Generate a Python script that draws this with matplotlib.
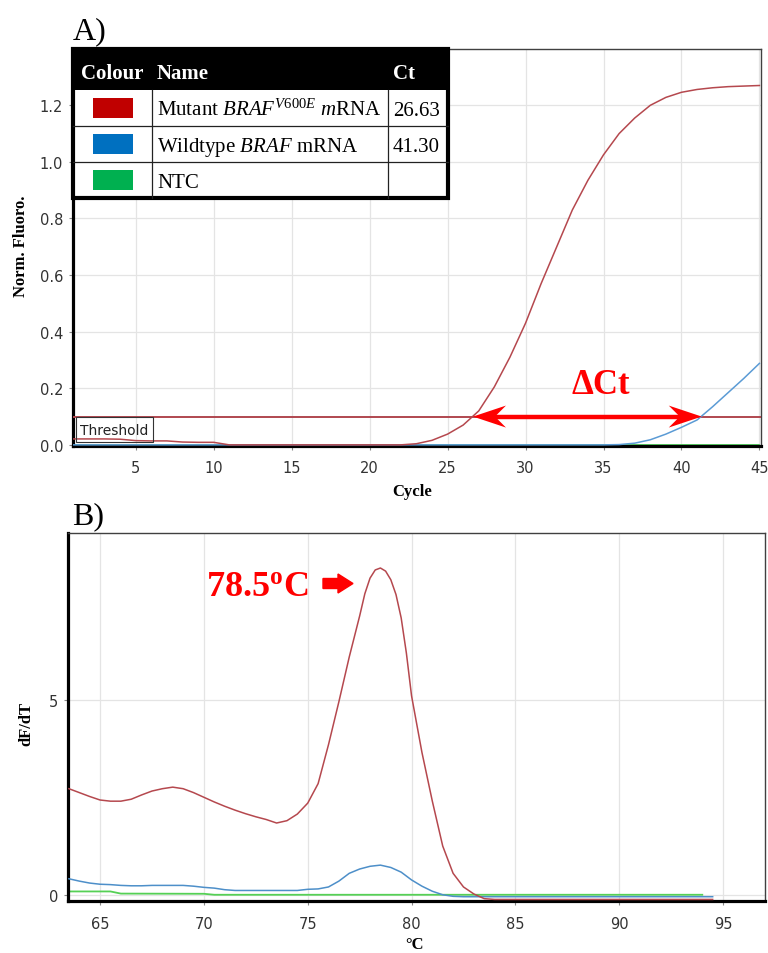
import matplotlib
matplotlib.use("Agg")
import matplotlib.pyplot as plt
from matplotlib.patches import Rectangle, FancyArrow, Polygon

plt.rcParams['font.family'] = ['DejaVu Sans']
plt.rcParams['mathtext.fontset'] = 'custom'
plt.rcParams['mathtext.rm'] = 'Liberation Serif'
plt.rcParams['mathtext.it'] = 'Liberation Serif:italic'
plt.rcParams['mathtext.bf'] = 'Liberation Serif:bold'

SERIF = 'Liberation Serif'

# ---------------- Panel A data (amplification) ----------------
cycles = list(range(1, 46))
mutant_fluoro = [0.021, 0.021, 0.021, 0.020, 0.015, 0.014, 0.014, 0.010, 0.009, 0.009,
                 0.000, 0.000, 0.000, 0.000, 0.000, 0.000, 0.000, 0.000, 0.000, 0.000,
                 0.000, 0.000, 0.004, 0.016, 0.038, 0.070, 0.120, 0.205, 0.310, 0.430,
                 0.570, 0.700, 0.830, 0.935, 1.025, 1.100, 1.155, 1.200, 1.228, 1.246,
                 1.256, 1.262, 1.266, 1.268, 1.270]
wildtype_fluoro = [0.0] * 35 + [0.001, 0.006, 0.018, 0.038, 0.062, 0.088, 0.135, 0.185, 0.235, 0.288]
ntc_fluoro = [0.0] * 45
threshold = 0.1

legend_names = [r"Mutant $\mathit{BRAF}^{\mathit{V600E}}$ $\mathit{m}$RNA",
                r"Wildtype $\mathit{BRAF}$ mRNA",
                "NTC"]
legend_colors = ['#c00000', '#0070c0', '#00b050']
ct_values = [26.63, 41.30, None]

# ---------------- Panel B data (melt curve) ----------------
mut_temp = [63.5, 64.0, 64.5, 65.0, 65.5, 66.0, 66.5, 67.0, 67.5, 68.0, 68.5, 69.0, 69.5,
            70.0, 70.5, 71.0, 71.5, 72.0, 72.5, 73.0, 73.5, 74.0, 74.5, 75.0, 75.5, 76.0,
            76.5, 77.0, 77.5, 77.75, 78.0, 78.25, 78.5, 78.75, 79.0, 79.25, 79.5, 79.75,
            80.0, 80.5, 81.0, 81.5, 82.0, 82.5, 83.0, 83.5, 84.0, 94.5]
mut_dfdt = [2.72, 2.62, 2.52, 2.43, 2.40, 2.40, 2.45, 2.56, 2.66, 2.72, 2.76, 2.72, 2.62,
            2.50, 2.38, 2.27, 2.17, 2.08, 2.00, 1.93, 1.84, 1.90, 2.07, 2.35, 2.85, 3.85,
            4.95, 6.10, 7.15, 7.72, 8.12, 8.33, 8.38, 8.30, 8.08, 7.70, 7.10, 6.20,
            5.10, 3.65, 2.40, 1.25, 0.55, 0.20, 0.02, -0.10, -0.12, -0.12]
wt_temp = [63.5, 64.0, 64.5, 65.0, 65.5, 66.0, 66.5, 67.0, 67.5, 68.0, 68.5, 69.0, 69.5,
           70.0, 70.5, 71.0, 71.5, 72.0, 73.0, 74.0, 74.5, 75.0, 75.5, 76.0, 76.5, 77.0,
           77.5, 78.0, 78.5, 79.0, 79.5, 80.0, 80.5, 81.0, 81.5, 82.0, 82.5, 94.5]
wt_dfdt = [0.41, 0.35, 0.30, 0.27, 0.26, 0.24, 0.23, 0.23, 0.24, 0.24, 0.24, 0.24, 0.22,
           0.19, 0.17, 0.13, 0.11, 0.11, 0.11, 0.11, 0.11, 0.14, 0.15, 0.20, 0.35, 0.55,
           0.66, 0.73, 0.76, 0.70, 0.58, 0.38, 0.22, 0.09, 0.00, -0.04, -0.05, -0.05]
ntc_temp = [63.5, 65.5, 66.0, 70.0, 70.5, 94.0]
ntc_dfdt = [0.085, 0.085, 0.03, 0.025, 0.0, 0.0]

W, H = 768, 954
fig = plt.figure(figsize=(W / 100, H / 100), dpi=100)
fig.patch.set_facecolor('white')


def style_axes(ax):
    for s in ('left', 'bottom'):
        ax.spines[s].set_linewidth(2.3)
        ax.spines[s].set_color('black')
    for s in ('top', 'right'):
        ax.spines[s].set_linewidth(1.0)
        ax.spines[s].set_color('#404040')
    ax.grid(True, color='#e4e4e4', lw=0.9)
    ax.set_axisbelow(True)
    ax.tick_params(length=3, color='#888888', labelcolor='#333333', labelsize=10.5)


# ---------------- Panel A ----------------
axA = fig.add_axes([73 / W, 1 - 447 / H, 688 / W, 397 / H])
style_axes(axA)
axA.plot(cycles, ntc_fluoro, color='#3ec84a', lw=1.2, zorder=2)
axA.plot(cycles, wildtype_fluoro, color='#5b9bd5', lw=1.1, zorder=3)
axA.plot(cycles, mutant_fluoro, color='#b5484e', lw=1.1, zorder=3)
axA.axhline(threshold, color='#b0474f', lw=1.4, zorder=2.6)
axA.set_xlim(0.98, 45.1)
axA.set_ylim(-0.004, 1.399)
axA.set_xticks([5, 10, 15, 20, 25, 30, 35, 40, 45])
axA.set_yticks([0.0, 0.2, 0.4, 0.6, 0.8, 1.0, 1.2])
axA.set_yticklabels([f"{v:.1f}" for v in [0.0, 0.2, 0.4, 0.6, 0.8, 1.0, 1.2]])
axA.tick_params(axis='x', pad=7)
axA.tick_params(axis='y', pad=4)

# ---------------- Panel B ----------------
axB = fig.add_axes([68.3 / W, 1 - 902 / H, 696.7 / W, 367.7 / H])
style_axes(axB)
axB.plot(ntc_temp, ntc_dfdt, color='#55d055', lw=1.3, zorder=2)
axB.plot(wt_temp, wt_dfdt, color='#4d8fc9', lw=1.1, zorder=3)
axB.plot(mut_temp, mut_dfdt, color='#b5484e', lw=1.1, zorder=3)
axB.set_xlim(63.47, 97.02)
axB.set_ylim(-0.16, 9.27)
axB.set_xticks([65, 70, 75, 80, 85, 90, 95])
axB.set_yticks([0, 5])
axB.tick_params(axis='x', pad=8)
axB.tick_params(axis='y', pad=4.5)

# ---------------- Overlay in pixel coordinates ----------------
ov = fig.add_axes([0, 0, 1, 1])
ov.set_xlim(0, W)
ov.set_ylim(H, 0)
ov.axis('off')
ov.set_zorder(10)
ov.patch.set_visible(False)

# panel letters
ov.text(73, 39.5, "A)", fontsize=23, family=SERIF, ha='left', va='baseline')
ov.text(72, 524.5, "B)", fontsize=23, family=SERIF, ha='left', va='baseline')

# axis labels
ov.text(21.5, 246, "Norm. Fluoro.", fontsize=12, family=SERIF, fontweight='bold',
        rotation=90, ha='center', va='center')
ov.text(412, 492, "Cycle", fontsize=12, family=SERIF, fontweight='bold', ha='center', va='center')
ov.text(26, 724, "dF/dT", fontsize=12, family=SERIF, fontweight='bold',
        rotation=90, ha='center', va='center')
ov.text(414, 945, "°C", fontsize=12, family=SERIF, fontweight='bold', ha='center', va='center')

# threshold label box
ov.add_patch(Rectangle((76, 418), 77, 25, fill=False, edgecolor='#333333', lw=0.8))
ov.text(80, 431, "Threshold", fontsize=10, color='#222222', ha='left', va='center')

# legend table
tl, tr, tt = 73, 448, 50
hb = 91
rh = 36
tb = hb + rh * len(legend_names)
c1, c2 = 152, 388
ov.add_patch(Rectangle((tl, tt), tr - tl, tb - tt, facecolor='white', edgecolor='none'))
ov.add_patch(Rectangle((tl, tt), tr - tl, hb - tt, facecolor='black', edgecolor='none'))
for i in range(1, len(legend_names)):
    ov.plot([tl, tr], [hb + i * rh, hb + i * rh], color='#222222', lw=0.9)
for cx in (c1, c2):
    ov.plot([cx, cx], [hb, tb], color='#222222', lw=0.9)
ov.add_patch(Rectangle((tl, tt), tr - tl, tb - tt, fill=False, edgecolor='black', lw=3.0))
for label, x in (("Colour", 81), ("Name", 157), ("Ct", 393)):
    ov.text(x, 79, label, fontsize=15, family=SERIF, fontweight='bold', color='white',
            ha='left', va='baseline')
for i, (name, col, ct) in enumerate(zip(legend_names, legend_colors, ct_values)):
    cy = hb + rh * i + rh / 2
    ov.add_patch(Rectangle((93, cy - 10), 40, 20, facecolor=col, edgecolor='none'))
    ov.text(157, cy + 7, name, fontsize=15, family=SERIF, ha='left', va='baseline')
    if ct is not None:
        ov.text(393, cy + 7, f"{ct:.2f}", fontsize=15, family=SERIF, ha='left', va='baseline')

# Delta Ct double arrow, derived from the Ct values
fig.canvas.draw()
p1 = axA.transData.transform((ct_values[0], threshold))
p2 = axA.transData.transform((ct_values[1], threshold))
x1, x2 = p1[0], p2[0]
y0 = H - p1[1]
hl, hw, notch = 33, 11, 22
ov.plot([x1 + notch, x2 - notch], [y0, y0], color='#ff0000', lw=3.2, solid_capstyle='butt')
ov.add_patch(Polygon([(x1, y0), (x1 + hl, y0 - hw), (x1 + notch, y0), (x1 + hl, y0 + hw)],
                     closed=True, facecolor='#ff0000', edgecolor='none'))
ov.add_patch(Polygon([(x2, y0), (x2 - hl, y0 - hw), (x2 - notch, y0), (x2 - hl, y0 + hw)],
                     closed=True, facecolor='#ff0000', edgecolor='none'))
ov.text((x1 + x2) / 2 + 13, 394, "ΔCt", fontsize=25, family=SERIF, fontweight='bold',
        color='#ff0000', ha='center', va='baseline')

# melt peak annotation
ov.text(206, 596, r"78.5$^{\mathbf{o}}$C", fontsize=26, family=SERIF, fontweight='bold',
        color='#ff0000', ha='left', va='baseline')
ov.add_patch(FancyArrow(323, 584.5, 30, 0, width=10, head_width=19, head_length=15,
                        length_includes_head=True, color='#ff0000'))

fig.savefig("out.png", dpi=100, facecolor='white')
